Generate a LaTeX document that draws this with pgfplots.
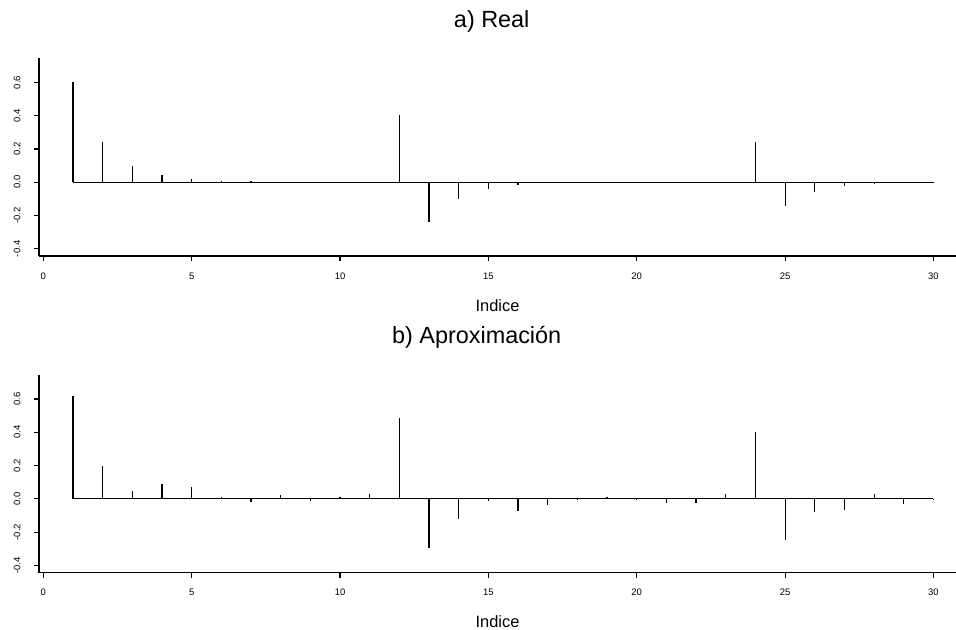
\documentclass[border=0pt]{standalone}
\usepackage{pgfplots}
\pgfplotsset{compat=1.18}
\usepackage{fontspec}
\setmainfont{Liberation Sans}

\pgfplotstableread{
lag real
1 0.602
2 0.244
3 0.100
4 0.042
5 0.018
6 0.009
7 0.005
8 0.002
9 0.002
10 0.002
11 0.002
12 0.402
13 -0.240
14 -0.100
15 -0.040
16 -0.018
17 -0.006
18 -0.003
19 -0.002
20 -0.002
21 -0.002
22 -0.002
23 -0.002
24 0.244
25 -0.144
26 -0.060
27 -0.025
28 -0.010
29 -0.004
30 -0.002
}\realdata

\pgfplotstableread{
lag aprox
1 0.618
2 0.197
3 0.048
4 0.088
5 0.072
6 0.008
7 -0.018
8 0.022
9 -0.012
10 0.012
11 0.030
12 0.486
13 -0.297
14 -0.124
15 -0.016
16 -0.072
17 -0.040
18 -0.008
19 0.008
20 -0.004
21 -0.024
22 -0.024
23 0.028
24 0.403
25 -0.249
26 -0.078
27 -0.070
28 0.028
29 -0.032
30 -0.002
}\aproxdata

\pgfplotsset{
  acfstyle/.style={
    scale only axis, width=917bp, height=198bp,
    xmin=-0.145, xmax=30.76, ymin=-0.443, ymax=0.747,
    axis lines=left, axis line style={-, line width=1.2bp},
    tick align=outside, major tick length=5bp,
    tick style={line width=1.1bp, black},
    xtick={0,5,10,15,20,25,30}, xticklabels={0,5,10,15,20,25,30},
    ytick={-0.4,-0.2,0,0.2,0.4,0.6}, yticklabels={-0.4,-0.2,0.0,0.2,0.4,0.6},
    ticklabel style={font=\fontsize{9.5}{10}\selectfont},
    yticklabel style={rotate=90, anchor=south},
    yticklabel shift={10bp},
    xticklabel shift={8bp},
    xlabel={Indice},
    xlabel style={at={(axis description cs:0.5,0)}, anchor=base, yshift=-55bp,
                  font=\fontsize{16.5}{18}\selectfont},
    clip=false,
  }
}

\begin{document}
\begin{tikzpicture}
\useasboundingbox (0,0) rectangle (956bp,-630bp);
\begin{axis}[acfstyle, at={(39bp,-256bp)}, anchor=south west,
  title={a) Real},
  title style={at={(axis description cs:0.4937,1)}, anchor=base, yshift=25bp,
               font=\fontsize{23.5}{26}\selectfont}]
\addplot[black, line width=1.2bp] coordinates {(1,0) (30,0)};
\addplot[black, ycomb, line width=1.2bp] table[x=lag, y=real] {\realdata};
\end{axis}
\begin{axis}[acfstyle, at={(39bp,-572.5bp)}, anchor=south west,
  title={b) Aproximación},
  title style={at={(axis description cs:0.4773,1)}, anchor=base, yshift=25bp,
               font=\fontsize{23.5}{26}\selectfont}]
\addplot[black, line width=1.2bp] coordinates {(1,0) (30,0)};
\addplot[black, ycomb, line width=1.2bp] table[x=lag, y=aprox] {\aproxdata};
\end{axis}
\end{tikzpicture}
\end{document}
